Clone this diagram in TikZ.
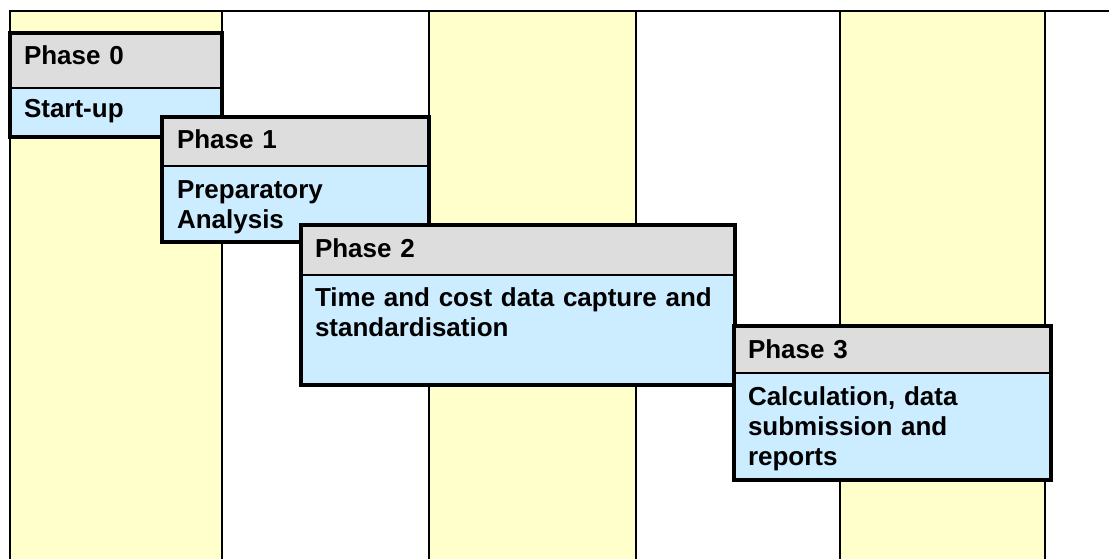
\documentclass[tikz,border=0pt]{standalone}
\usepackage{fontspec}
\setmainfont{Liberation Sans}
\usetikzlibrary{calc}
\definecolor{colyellow}{HTML}{FFFFCC}
\definecolor{hdrgray}{HTML}{DDDDDD}
\definecolor{bodyblue}{HTML}{CCECFF}
\begin{document}
\begin{tikzpicture}[x=1pt,y=-1pt,
  colbox/.style={fill=colyellow, draw=black, line width=1.6pt},
  hdr/.style={fill=hdrgray, draw=black, line width=1.6pt, anchor=north west, inner sep=0pt, outer sep=0pt},
  bodybox/.style={fill=bodyblue, draw=black, line width=1.6pt, anchor=north west, inner sep=0pt, outer sep=0pt},
  frame/.style={draw=black, line width=4.5pt},
  phtext/.style={anchor=base west, inner sep=0pt, outer sep=0pt, text width=400pt, align=left,
                 font=\bfseries\fontsize{26}{30}\selectfont}
]
\useasboundingbox (0,0) rectangle (1109,559);
\fill[white] (0,0) rectangle (1109,559);
% columns
\node[colbox, anchor=north west, minimum width=212, minimum height=560, inner sep=0pt, outer sep=0pt] (c1) at (10,11) {};
\node[colbox, anchor=north west, minimum width=207, minimum height=560, inner sep=0pt, outer sep=0pt] (c3) at (429,11) {};
\node[colbox, anchor=north west, minimum width=205, minimum height=560, inner sep=0pt, outer sep=0pt] (c5) at (840,11) {};
\coordinate (tr) at (1109,11);
\draw[line width=1.6pt] (c1.north west) -- (tr);
\draw[line width=1.6pt] (c3.north east) -- ++(0,560);
\draw[line width=1.6pt] (c5.north east) -- ++(0,560);

% Phase 0
\node[hdr, minimum width=212, minimum height=55] (p0h) at (10,33) {};
\node[bodybox, minimum width=212, minimum height=49] (p0b) at (p0h.south west) {};
\draw[frame] (p0h.north west) rectangle (p0b.south east);
\node[phtext] (t0h) at ($(p0h.north west)+(14,32)$) {Phase 0};
\node[phtext] (t0b) at ($(p0b.north west)+(14,30)$) {Start-up};

% Phase 1
\node[hdr, minimum width=267, minimum height=49] (p1h) at (162,117) {};
\node[bodybox, minimum width=267, minimum height=76] (p1b) at (p1h.south west) {};
\draw[frame] (p1h.north west) rectangle (p1b.south east);
\node[phtext] (t1h) at ($(p1h.north west)+(15,32)$) {Phase 1};
\node[phtext] (t1b) at ($(p1b.north west)+(15,32)$) {Preparatory\\Analysis};

% Phase 2
\node[hdr, minimum width=434, minimum height=50] (p2h) at (301,225) {};
\node[bodybox, minimum width=434, minimum height=110] (p2b) at (p2h.south west) {};
\draw[frame] (p2h.north west) rectangle (p2b.south east);
\node[phtext] (t2h) at ($(p2h.north west)+(14,32)$) {Phase 2};
\node[phtext] (t2b) at ($(p2b.north west)+(14,31)$) {Time and cost data capture and\\standardisation};

% Phase 3
\node[hdr, minimum width=317, minimum height=47] (p3h) at (734,326) {};
\node[bodybox, minimum width=317, minimum height=107] (p3b) at (p3h.south west) {};
\draw[frame] (p3h.north west) rectangle (p3b.south east);
\node[phtext] (t3h) at ($(p3h.north west)+(14,32)$) {Phase 3};
\node[phtext] (t3b) at ($(p3b.north west)+(14,32)$) {Calculation, data\\submission and\\reports};
\end{tikzpicture}
\end{document}
